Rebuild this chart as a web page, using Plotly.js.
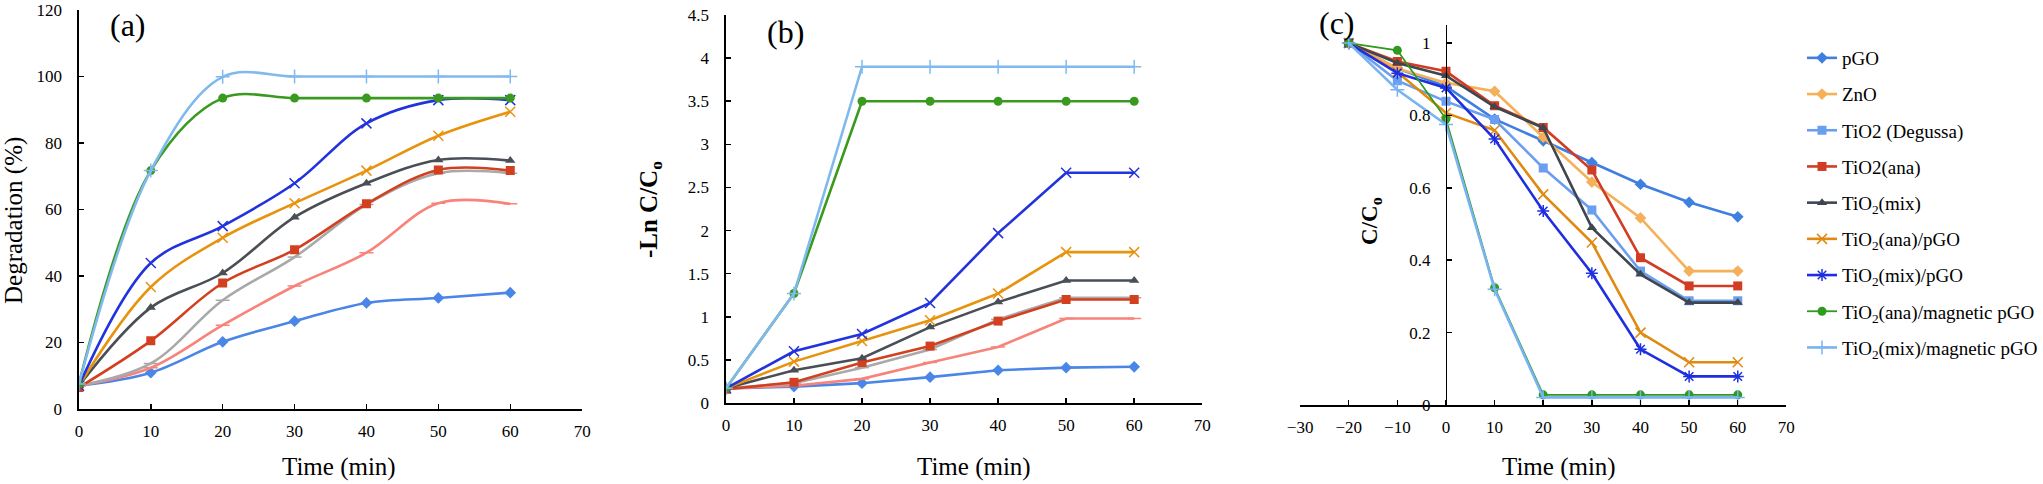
<!DOCTYPE html>
<html><head><meta charset="utf-8">
<script src="https://cdn.plot.ly/plotly-3.0.1.min.js"></script>
<style>html,body{margin:0;padding:0;background:#fff}#chart{width:2043px;height:484px}</style>
</head><body><div id="chart"></div>
<script>
// ---------- categories ----------
const timeAB = [0, 10, 20, 30, 40, 50, 60];
const timeC = [-20, -10, 0, 10, 20, 30, 40, 50, 60];
const seriesNames = ['pGO', 'ZnO', 'TiO2 (Degussa)', 'TiO2(ana)', 'TiO<sub>2</sub>(mix)',
  'TiO<sub>2</sub>(ana)/pGO', 'TiO<sub>2</sub>(mix)/pGO', 'TiO<sub>2</sub>(ana)/magnetic pGO',
  'TiO<sub>2</sub>(mix)/magnetic pGO'];
const panelLabels = ['(a)', '(b)', '(c)'];
const xTitle = 'Time (min)';
const yTitles = ['Degradation (%)', '<b>-Ln C/C<sub>o</sub></b>', '<b>C/C<sub>o</sub></b>'];

// ---------- (a) Degradation (%) ----------
const degPGO      = [7.0, 10.9, 20.2, 26.4, 31.9, 33.4, 35.0];
const degZnO      = [7.0, 12.4, 25.2, 37.0, 47.0, 61.9, 61.7];
const degDegussa  = [7.0, 13.7, 32.7, 45.7, 61.5, 70.9, 70.9];
const degAna      = [6.5, 20.5, 37.9, 47.9, 61.7, 71.9, 71.7];
const degMix      = [7.0, 30.5, 40.9, 57.7, 67.9, 74.9, 74.7];
const degAnaPGO   = [7.0, 36.7, 51.5, 61.9, 71.7, 82.2, 89.4];
const degMixPGO   = [7.0, 43.9, 55.0, 67.9, 85.9, 92.9, 92.9];
const degAnaMag   = [7.5, 71.7, 93.5, 93.5, 93.5, 93.5, 93.5];
const degMixMag   = [7.5, 71.7, 99.9, 100, 100, 100, 100];

// ---------- (b) -Ln C/Co ----------
const lnPGO     = [0.17, 0.19, 0.23, 0.30, 0.38, 0.41, 0.42];
const lnZnO     = [0.17, 0.20, 0.28, 0.47, 0.65, 0.98, 0.98];
const lnDegussa = [0.17, 0.23, 0.41, 0.62, 0.97, 1.22, 1.22];
const lnAna     = [0.16, 0.24, 0.47, 0.66, 0.95, 1.20, 1.20];
const lnMix     = [0.17, 0.38, 0.52, 0.88, 1.17, 1.42, 1.42];
const lnAnaPGO  = [0.17, 0.48, 0.72, 0.96, 1.27, 1.75, 1.75];
const lnMixPGO  = [0.17, 0.60, 0.80, 1.16, 1.97, 2.67, 2.67];
const lnAnaMag  = [0.17, 1.27, 3.50, 3.50, 3.50, 3.50, 3.50];
const lnMixMag  = [0.17, 1.27, 3.90, 3.90, 3.90, 3.90, 3.90];

// ---------- (c) C/Co ----------
const ccPGO     = [1.0, 0.93, 0.88, 0.79, 0.73, 0.67, 0.61, 0.56, 0.52];
const ccZnO     = [1.0, 0.93, 0.89, 0.867, 0.74, 0.616, 0.517, 0.37, 0.37];
const ccDegussa = [1.0, 0.896, 0.839, 0.789, 0.655, 0.539, 0.37, 0.288, 0.288];
const ccAna     = [1.0, 0.949, 0.922, 0.827, 0.767, 0.649, 0.407, 0.329, 0.329];
const ccMix     = [1.0, 0.945, 0.91, 0.824, 0.766, 0.49, 0.361, 0.283, 0.283];
const ccAnaPGO  = [1.0, 0.92, 0.807, 0.759, 0.582, 0.449, 0.20, 0.118, 0.118];
const ccMixPGO  = [1.0, 0.917, 0.876, 0.735, 0.536, 0.364, 0.154, 0.079, 0.079];
const ccAnaMag  = [1.0, 0.98, 0.79, 0.324, 0.028, 0.028, 0.028, 0.028, 0.028];
const ccMixMag  = [1.0, 0.871, 0.775, 0.32, 0.021, 0.021, 0.021, 0.021, 0.021];

// ---------- styles ----------
const colorsAB = ['#4a86e8', '#f8837a', '#a9a9a9', '#d2401f', '#4a4f56', '#e8930e', '#2233dd', '#3a9a20', '#80b9ee'];
const symbolsAB = ['diamond', 'line-ew-open', 'line-ew-open', 'square', 'triangle-up', 'x-thin-open', 'x-thin-open', 'circle', 'cross-thin-open'];
const colorsC = ['#3f7fe0', '#f5b05a', '#6c9ef0', '#d13c22', '#3f4650', '#e08a12', '#1e2fe0', '#2e9a1e', '#79b4f0'];
const symbolsC = ['diamond', 'diamond', 'square', 'square', 'triangle-up', 'x-thin-open', 'asterisk-open', 'circle', 'cross-thin-open'];

const dataA = [degPGO, degZnO, degDegussa, degAna, degMix, degAnaPGO, degMixPGO, degAnaMag, degMixMag];
const dataB = [lnPGO, lnZnO, lnDegussa, lnAna, lnMix, lnAnaPGO, lnMixPGO, lnAnaMag, lnMixMag];
const dataC = [ccPGO, ccZnO, ccDegussa, ccAna, ccMix, ccAnaPGO, ccMixPGO, ccAnaMag, ccMixMag];

function mk(x, y, i, colors, symbols, xa, ya, shape, show) {
  const sym = symbols[i];
  const open = sym.indexOf('open') >= 0;
  return {
    x: x, y: y, name: seriesNames[i], type: 'scatter', mode: 'lines+markers',
    xaxis: xa, yaxis: ya, showlegend: show, legendgroup: show ? 'g' + i : undefined,
    line: {color: colors[i], width: (i === 7 && xa === 'x3') ? 1.8 : 2.6, shape: shape, smoothing: 1},
    marker: {symbol: sym, size: open ? 10 : 9, color: colors[i],
      line: {color: colors[i], width: open ? 1.5 : 0}}
  };
}

const traces = [];
for (let i = 0; i < 9; i++) traces.push(mk(timeAB, dataA[i], i, colorsAB, symbolsAB, 'x', 'y', 'spline', false));
for (let i = 0; i < 9; i++) traces.push(mk(timeAB, dataB[i], i, colorsAB, symbolsAB, 'x2', 'y2', 'linear', false));
for (let i = 0; i < 9; i++) traces.push(mk(timeC, dataC[i], i, colorsC, symbolsC, 'x3', 'y3', 'linear', true));

const W = 2043, H = 484;
const F = 'Liberation Serif';
const axBase = {showline: true, linecolor: '#000', linewidth: 1.6, ticks: 'inside', ticklen: 5,
  tickwidth: 1.5, tickcolor: '#000', showgrid: false, zeroline: false,
  tickfont: {family: F, size: 17, color: '#000'}};

function ann(text, px, py, size, angle) {
  return {text: text, xref: 'paper', yref: 'paper', x: px / W, y: 1 - py / H, xanchor: 'center',
    yanchor: 'middle', showarrow: false, textangle: angle || 0, font: {family: F, size: size, color: '#000'}};
}

const layout = {
  width: W, height: H, paper_bgcolor: '#fff', plot_bgcolor: 'rgba(0,0,0,0)',
  margin: {l: 0, r: 0, t: 0, b: 0}, font: {family: F, color: '#000'},
  xaxis: Object.assign({}, axBase, {domain: [79 / W, 583 / W], range: [0, 70], dtick: 10, anchor: 'y',
    ticklabelstandoff: 6}),
  yaxis: Object.assign({}, axBase, {domain: [75 / H, 474 / H], range: [0, 120], dtick: 20, anchor: 'x',
    ticklabelstandoff: 12}),
  xaxis2: Object.assign({}, axBase, {domain: [727 / W, 1204 / W], range: [0, 70], dtick: 10, anchor: 'y2',
    ticklabelstandoff: 6}),
  yaxis2: Object.assign({}, axBase, {domain: [81 / H, 469 / H], range: [0, 4.5], dtick: 0.5, anchor: 'x2',
    ticklabelstandoff: 12}),
  xaxis3: Object.assign({}, axBase, {domain: [1302 / W, 1789 / W], range: [-30, 70], dtick: 10, anchor: 'y3',
    ticklabelstandoff: 6}),
  yaxis3: Object.assign({}, axBase, {domain: [79 / H, 459 / H], range: [0, 1.05],
    tickvals: [0, 0.2, 0.4, 0.6, 0.8, 1], anchor: 'free', position: 1448 / W,
    ticklabelstandoff: 12}),
  legend: {x: 1805 / W, xanchor: 'left', y: 1 - 39 / H, yanchor: 'top', traceorder: 'grouped',
    tracegroupgap: 8.5, font: {family: F, size: 19, color: '#000'}, bgcolor: 'rgba(0,0,0,0)', itemwidth: 30},
  annotations: [
    ann(panelLabels[0], 128, 25, 32), ann(panelLabels[1], 787, 32, 32), ann(panelLabels[2], 1339, 23, 32),
    ann(xTitle, 339, 467, 25), ann(xTitle, 975, 467, 25), ann(xTitle, 1561, 467, 25),
    ann(yTitles[0], 14, 220, 25, -90), ann(yTitles[1], 651, 210, 25, -90), ann(yTitles[2], 1373, 221, 23, -90)
  ]
};

Plotly.newPlot('chart', traces, layout, {displayModeBar: false, staticPlot: true});
</script>
</body></html>
